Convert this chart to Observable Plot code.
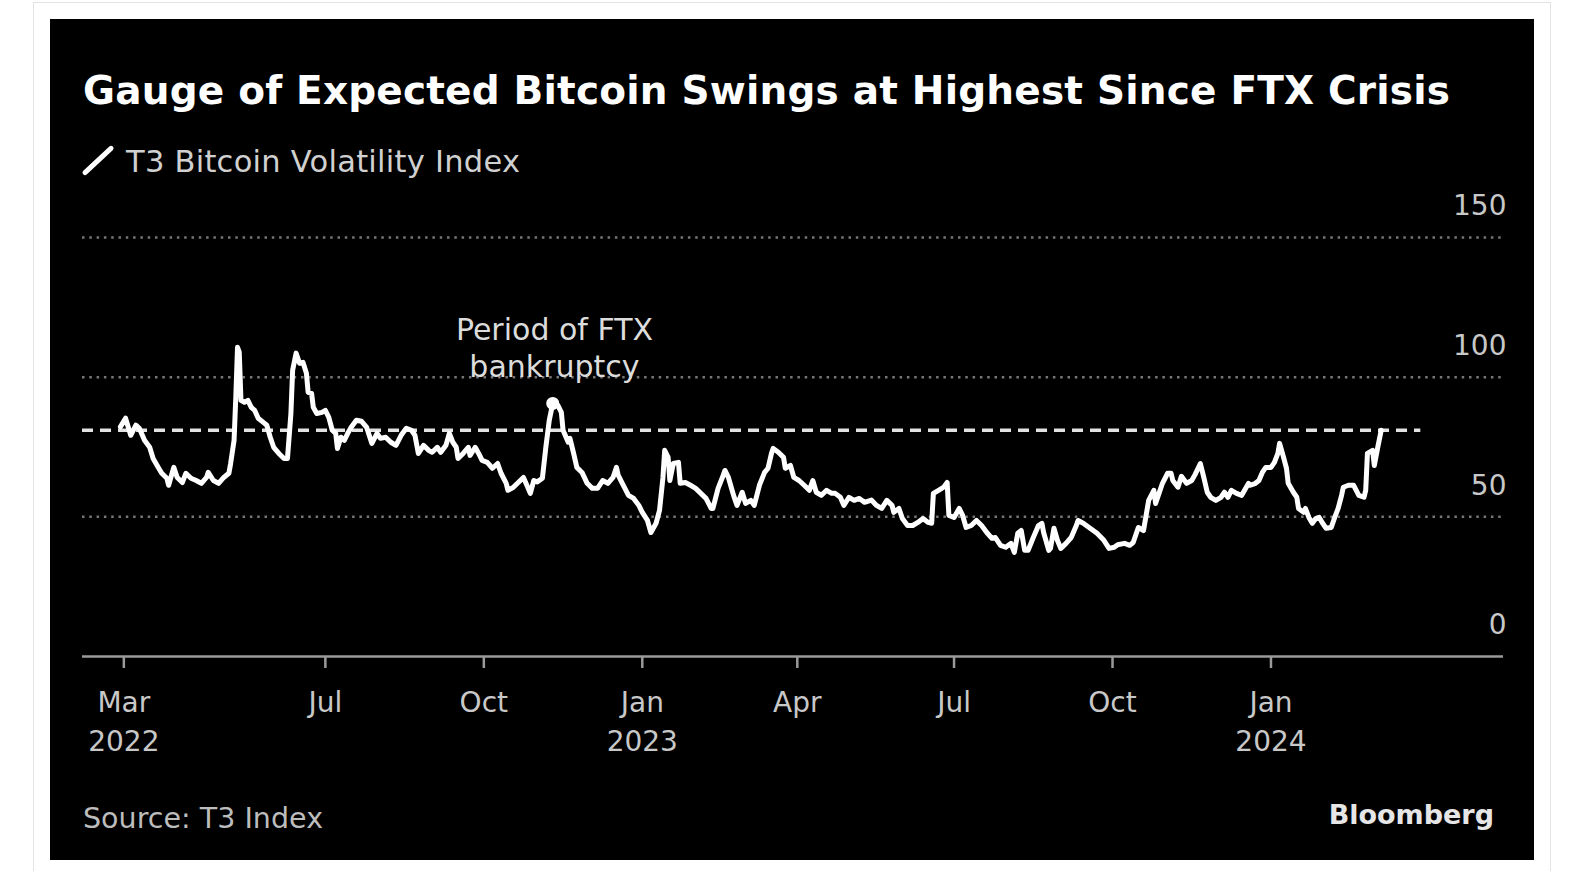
<!DOCTYPE html>
<html><head><meta charset="utf-8">
<script src="https://cdn.jsdelivr.net/npm/d3@7"></script>
<script src="https://cdn.jsdelivr.net/npm/@observablehq/plot@0.6"></script>
<style>
html,body{margin:0;padding:0;background:#fff;width:1583px;height:871px;overflow:hidden;font-family:"DejaVu Sans",sans-serif;}
#frame{position:absolute;left:33px;top:2px;width:1518px;height:880px;border:1px solid #e3e3e3;box-sizing:border-box;}
#panel{position:absolute;left:50px;top:19px;width:1484px;height:841px;background:#000;overflow:hidden;}
.t{position:absolute;white-space:nowrap;line-height:1;}
#title{left:33px;top:52px;font-weight:bold;font-size:39px;color:#fff;}
#subtitle{left:76px;top:128px;font-size:30.5px;color:#d0d0d0;}
#icon{position:absolute;left:30px;top:124px;}
#source{left:33px;top:786px;font-size:28.5px;color:#bdbdbd;}
#brand{right:40px;top:782px;font-size:27px;font-weight:bold;color:#e6e6e6;}
#chart{position:absolute;left:0;top:161px;}
</style></head>
<body>
<div id="frame"></div>
<div id="panel">
  <div class="t" id="title">Gauge of Expected Bitcoin Swings at Highest Since FTX Crisis</div>
  <svg id="icon" width="40" height="40"><line x1="5" y1="29.6" x2="31" y2="5.3" stroke="#fff" stroke-width="5" stroke-linecap="round"/></svg>
  <div class="t" id="subtitle">T3 Bitcoin Volatility Index</div>
  <div id="chart"></div>
  <div class="t" id="source">Source: T3 Index</div>
  <div class="t" id="brand">Bloomberg</div>
</div>
<script>
// ---- data ----
const dates = [
"2022-03-04","2022-03-07","2022-03-10","2022-03-13","2022-03-15","2022-03-18","2022-03-21","2022-03-23","2022-03-26","2022-03-28","2022-03-31",
"2022-04-01","2022-04-04","2022-04-06","2022-04-09","2022-04-11","2022-04-14","2022-04-17","2022-04-20","2022-04-23","2022-04-24","2022-04-27","2022-04-30",
"2022-05-03","2022-05-06","2022-05-07","2022-05-09","2022-05-10","2022-05-11","2022-05-12","2022-05-13","2022-05-15","2022-05-17","2022-05-19","2022-05-21","2022-05-23","2022-05-26","2022-05-28","2022-05-30",
"2022-06-01","2022-06-04","2022-06-07","2022-06-09","2022-06-11","2022-06-12","2022-06-14","2022-06-16","2022-06-18","2022-06-20","2022-06-21","2022-06-23","2022-06-24","2022-06-26","2022-06-29",
"2022-07-01","2022-07-03","2022-07-05","2022-07-07","2022-07-08","2022-07-10","2022-07-12","2022-07-14","2022-07-16","2022-07-19","2022-07-22","2022-07-25","2022-07-28","2022-07-31",
"2022-08-02","2022-08-05","2022-08-08","2022-08-11","2022-08-14","2022-08-17","2022-08-20","2022-08-22","2022-08-24","2022-08-27","2022-08-30",
"2022-09-01","2022-09-04","2022-09-06","2022-09-09","2022-09-11","2022-09-13","2022-09-15","2022-09-16","2022-09-19","2022-09-22","2022-09-23","2022-09-26","2022-09-28","2022-09-30",
"2022-10-03","2022-10-06","2022-10-09","2022-10-11","2022-10-14","2022-10-15","2022-10-18","2022-10-21","2022-10-24","2022-10-26","2022-10-28","2022-10-30",
"2022-11-01","2022-11-04","2022-11-06","2022-11-08","2022-11-10","2022-11-13","2022-11-15","2022-11-16","2022-11-19","2022-11-20","2022-11-22","2022-11-24","2022-11-27","2022-11-30",
"2022-12-03","2022-12-06","2022-12-09","2022-12-12","2022-12-15","2022-12-17","2022-12-18","2022-12-21","2022-12-24","2022-12-27","2022-12-30",
"2023-01-01","2023-01-04","2023-01-06","2023-01-09","2023-01-11","2023-01-13","2023-01-14","2023-01-16","2023-01-17","2023-01-19","2023-01-22","2023-01-23","2023-01-26","2023-01-29",
"2023-02-01","2023-02-04","2023-02-07","2023-02-10","2023-02-11","2023-02-14","2023-02-17","2023-02-18","2023-02-20","2023-02-23","2023-02-25","2023-02-28",
"2023-03-02","2023-03-05","2023-03-07","2023-03-10","2023-03-13","2023-03-15","2023-03-17","2023-03-18","2023-03-21","2023-03-24","2023-03-25","2023-03-28","2023-03-30",
"2023-04-02","2023-04-05","2023-04-08","2023-04-10","2023-04-12","2023-04-15","2023-04-18","2023-04-21","2023-04-23","2023-04-26","2023-04-28",
"2023-05-01","2023-05-04","2023-05-07","2023-05-10","2023-05-14","2023-05-17","2023-05-20","2023-05-23","2023-05-26","2023-05-27","2023-05-30",
"2023-06-01","2023-06-04","2023-06-07","2023-06-10","2023-06-13","2023-06-16","2023-06-18","2023-06-19","2023-06-22","2023-06-25","2023-06-27","2023-06-28",
"2023-07-01","2023-07-04","2023-07-06","2023-07-08","2023-07-11","2023-07-14","2023-07-17","2023-07-20","2023-07-23","2023-07-25","2023-07-28","2023-07-31",
"2023-08-03","2023-08-05","2023-08-07","2023-08-09","2023-08-11","2023-08-13","2023-08-16","2023-08-19","2023-08-21","2023-08-22","2023-08-25","2023-08-26","2023-08-28","2023-08-30",
"2023-09-01","2023-09-04","2023-09-07","2023-09-10","2023-09-11","2023-09-14","2023-09-18","2023-09-22","2023-09-26","2023-09-29",
"2023-10-02","2023-10-04","2023-10-08","2023-10-11","2023-10-13","2023-10-15","2023-10-16","2023-10-19","2023-10-21","2023-10-22","2023-10-25","2023-10-26","2023-10-28","2023-10-30",
"2023-11-02","2023-11-04","2023-11-05","2023-11-08","2023-11-10","2023-11-13","2023-11-16","2023-11-18","2023-11-21","2023-11-23","2023-11-25","2023-11-27","2023-11-30",
"2023-12-03","2023-12-05","2023-12-07","2023-12-09","2023-12-12","2023-12-15","2023-12-16","2023-12-19","2023-12-20","2023-12-23","2023-12-25","2023-12-27","2023-12-29",
"2024-01-01","2024-01-03","2024-01-05","2024-01-06","2024-01-08","2024-01-10","2024-01-11","2024-01-14","2024-01-16","2024-01-17","2024-01-20","2024-01-21","2024-01-23","2024-01-25","2024-01-27","2024-01-29","2024-01-31",
"2024-02-02","2024-02-05","2024-02-07","2024-02-09","2024-02-11","2024-02-12","2024-02-15","2024-02-18","2024-02-21","2024-02-24","2024-02-25","2024-02-26","2024-02-29",
"2024-03-01","2024-03-03","2024-03-05"
];
const vol = [
82.2,85.3,79.2,82.8,81.7,77.4,74.9,70.9,67.7,65.6,63.8,
61.3,67.7,64.1,62.3,65.6,63.8,63.0,62.0,64.1,65.9,63.0,62.0,
64.1,65.6,69.1,77.4,92.8,110.7,109.0,91.7,91.0,91.7,89.2,88.1,85.3,83.8,82.8,78.5,
74.9,72.7,70.9,70.9,87.0,102.5,108.6,105.0,105.3,101.4,94.6,94.2,89.2,87.0,87.4,
88.1,85.6,81.0,79.9,74.5,78.5,77.4,79.9,82.1,84.6,84.2,82.0,76.3,79.9,
78.1,78.5,76.7,75.6,79.2,81.7,81.0,79.2,72.7,75.6,73.8,
73.1,74.9,73.1,75.6,79.9,76.7,74.9,70.9,72.7,74.9,72.0,74.9,72.7,70.2,
69.5,67.4,69.1,65.6,62.0,59.5,60.5,62.3,64.1,61.3,58.4,63.0,
62.5,63.8,74.9,84.6,90.6,89.9,87.4,81.0,76.7,78.1,73.1,67.7,65.9,62.0,
60.2,60.2,63.0,62.0,64.1,67.7,64.9,61.3,57.7,56.6,54.1,
51.6,48.7,44.4,47.7,52.3,64.1,73.8,71.3,63.0,69.1,69.5,62.0,62.3,61.3,
60.2,58.4,56.6,53.0,53.0,60.2,64.9,66.6,64.1,57.7,54.1,58.8,
54.8,55.9,54.1,61.3,65.9,67.4,72.7,74.5,73.1,71.3,67.4,68.4,64.1,
63.0,61.3,59.5,63.0,58.8,57.7,59.5,58.4,58.4,57.0,54.1,
57.0,55.9,56.6,55.2,56.0,54.1,53.0,55.9,54.1,51.6,53.0,
49.4,46.9,46.9,48.0,49.4,48.0,47.7,58.4,59.5,60.6,62.3,50.5,
49.8,53.0,50.5,46.2,46.9,48.7,46.9,44.4,42.3,42.6,39.8,39.1,
40.5,37.3,44.1,45.1,38.0,38.0,42.6,46.9,47.7,44.4,38.0,38.7,45.9,41.6,
38.7,40.5,42.6,46.9,48.7,47.7,45.9,44.1,41.6,38.7,
39.1,40.0,40.5,39.8,40.8,44.4,46.2,45.1,52.3,55.9,59.5,54.8,58.4,62.0,
65.6,65.6,63.0,60.6,64.5,62.0,63.0,65.2,69.1,64.1,58.8,57.0,55.9,
57.0,58.8,57.0,59.5,58.4,57.7,58.8,62.0,61.3,62.0,63.0,65.9,67.7,
67.7,69.5,72.7,76.3,72.0,67.4,62.0,58.8,57.0,53.0,51.6,53.0,49.8,47.7,49.4,49.8,47.7,
45.9,46.2,49.8,53.0,57.7,60.6,61.3,61.3,57.7,57.0,59.5,72.7,73.8,
68.4,74.9,81.0
];
const xDomain = ["2022-02-10", "2024-05-15"];
const yTicks = [0, 50, 100, 150];
const tickDates = ["2022-03-06","2022-07-01","2022-10-01","2023-01-01","2023-04-01","2023-07-01","2023-10-01","2024-01-01"];
const tickLabels = ["Mar\n2022","Jul","Oct","Jan\n2023","Apr","Jul","Oct","Jan\n2024"];
const refLevel = 81;
const refStart = "2022-02-10";
const refEnd = "2024-03-28";
const noteDate = "2022-11-11";
const noteLevel = 100;
const noteText = "Period of FTX\nbankruptcy";

// ---- build ----
const data = dates.map((d, i) => ({date: new Date(d), value: vol[i]}));
const tickMap = new Map(tickDates.map((d, i) => [+new Date(d), tickLabels[i]]));
const novStart = new Date("2022-11-01"), novEnd = new Date("2022-12-01");
const ftxPeak = data.filter(d => d.date >= novStart && d.date < novEnd).reduce((a, b) => b.value > a.value ? b : a);
const refLine = [{y: refLevel, x1: new Date(refStart), x2: new Date(refEnd)}];
const note = [{date: new Date(noteDate), value: noteLevel, text: noteText}];

const chart = Plot.plot({
  width: 1484, height: 600,
  marginLeft: 32, marginRight: 31, marginTop: 57, marginBottom: 124,
  style: {background: "transparent", color: "#c8c8c8", fontFamily: "'DejaVu Sans', sans-serif", fontSize: "28px", overflow: "visible"},
  x: {type: "utc", domain: xDomain.map(d => new Date(d))},
  y: {domain: [0, 150]},
  marks: [
    Plot.gridY(yTicks.filter(v => v > 0), {stroke: "#767676", strokeOpacity: 1, strokeWidth: 2.5, strokeDasharray: "2.5,4.8"}),
    Plot.ruleY([0], {stroke: "#9a9a9a", strokeWidth: 2.5}),
    Plot.axisX({ticks: tickDates.map(d => new Date(d)), tickFormat: d => tickMap.get(+d), tickSize: 12, tickPadding: 16,
      stroke: "#9a9a9a", strokeWidth: 2.5, fill: "#c8c8c8", lineHeight: 1.38, fontSize: 28}),
    Plot.axisY({anchor: "right", ticks: yTicks, tickSize: 0, tickPadding: 3, textAnchor: "end", dy: -31, fill: "#c8c8c8", fontSize: 28}),
    Plot.ruleY(refLine, {y: "y", x1: "x1", x2: "x2", stroke: "#e2e2e2", strokeWidth: 3.5, strokeDasharray: "11,7"}),
    Plot.line(data, {x: "date", y: "value", stroke: "#fff", strokeWidth: 5, strokeLinejoin: "round", strokeLinecap: "round"}),
    Plot.dot([ftxPeak], {x: "date", y: "value", r: 6.5, fill: "#fff"}),
    Plot.text(note, {x: "date", y: "value", text: "text", lineAnchor: "bottom", lineHeight: 1.23, fontSize: 30, fill: "#dcdcdc"})
  ]
});
document.getElementById("chart").appendChild(chart);

// fit header texts to reference widths
function fit(id, target) {
  const el = document.getElementById(id);
  const w = el.getBoundingClientRect().width;
  const n = el.textContent.length;
  if (n > 1) el.style.letterSpacing = ((target - w) / (n - 1)) + "px";
}
fit("title", 1367);
fit("subtitle", 394);
fit("source", 240);
</script>
</body></html>
